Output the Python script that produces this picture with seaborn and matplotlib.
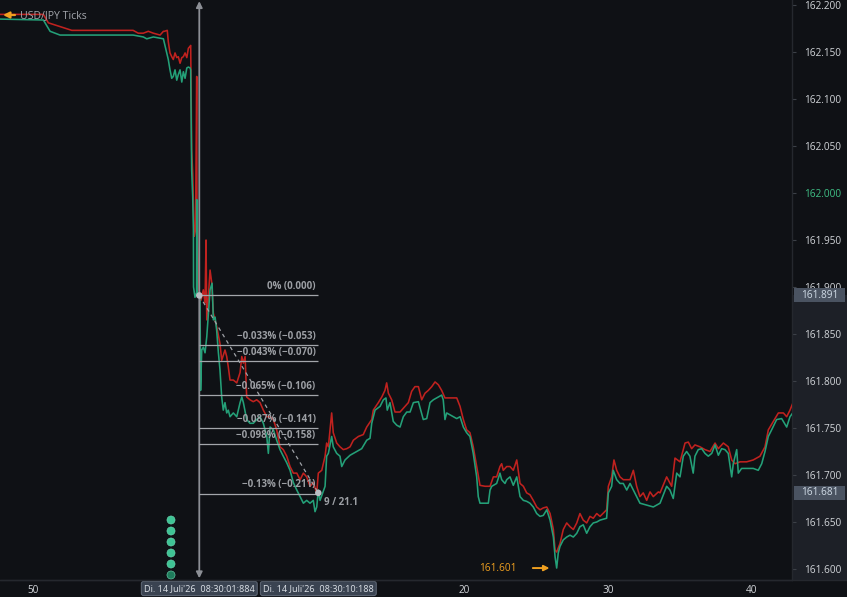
import matplotlib
matplotlib.use("Agg")
import matplotlib.pyplot as plt
import seaborn as sns
import pandas as pd
from matplotlib import transforms
from matplotlib.patches import Rectangle
from matplotlib.lines import Line2D

# ---------------- data (seconds relative to 08:30:00, price) ----------------
bid_t = [-12.33, -9.31, -8.84, -8.15, -6.98, -3.06, -2.35, -2.11, -1.65, -0.95,
         -0.72, -0.61, -0.49, -0.37, -0.26, -0.14, -0.02, 0.09, 0.21, 0.33,
         0.44, 0.56, 0.68, 0.79, 0.91, 0.95, 1.02, 1.09, 1.14, 1.15,
         1.25, 1.36, 1.37, 1.39, 1.55, 1.60, 1.64, 1.72, 1.83, 1.95,
         2.07, 2.30, 2.44, 2.53, 2.65, 2.76, 2.88, 2.99, 3.11, 3.22,
         3.34, 3.46, 3.57, 3.69, 3.92, 4.16, 4.39, 4.51, 4.62, 4.85,
         5.08, 5.31, 5.55, 5.78, 6.01, 6.25, 6.36, 6.48, 6.71, 6.94,
         7.17, 7.40, 7.64, 7.87, 8.10, 8.34, 8.57, 8.80, 9.03, 9.26,
         9.49, 9.61, 9.73, 9.84, 9.96, 10.31, 10.42, 10.54, 10.77, 10.88,
         11.12, 11.35, 11.47, 11.70, 12.05, 12.51, 12.86, 13.21, 13.44, 13.56,
         13.79, 14.14, 14.37, 14.55, 14.64, 14.83, 15.06, 15.30, 15.53, 15.76,
         16.00, 16.23, 16.46, 16.81, 17.15, 17.39, 17.62, 17.85, 18.08, 18.43,
         18.54, 18.66, 18.78, 19.01, 19.48, 19.71, 19.94, 20.17, 20.40, 20.63,
         20.87, 20.98, 21.10, 21.68, 21.80, 21.92, 22.26, 22.49, 22.61, 22.84,
         22.96, 23.19, 23.42, 23.66, 23.89, 24.12, 24.35, 24.58, 24.81, 25.05,
         25.28, 25.51, 25.75, 25.98, 26.21, 26.33, 26.44, 26.55, 26.67, 26.90,
         27.14, 27.37, 27.60, 27.84, 28.06, 28.29, 28.53, 28.76, 28.99, 29.23,
         29.46, 29.92, 30.04, 30.27, 30.38, 30.62, 30.85, 31.08, 31.32, 31.55,
         31.78, 32.01, 32.24, 32.71, 33.17, 33.64, 34.10, 34.33, 34.56, 34.80,
         35.03, 35.26, 35.49, 35.72, 35.95, 36.07, 36.30, 36.54, 36.77, 37.00,
         37.24, 37.47, 37.70, 37.93, 38.16, 38.39, 38.63, 38.74, 38.98, 39.09,
         39.32, 39.67, 40.13, 40.48, 40.72, 40.95, 41.18, 41.41, 41.76, 42.11,
         42.46, 42.69, 42.93]
bid_p = [162.185, 162.184, 162.172, 162.168, 162.168, 162.168, 162.166, 162.164, 162.166, 162.164,
         162.149, 162.142, 162.131, 162.122, 162.124, 162.131, 162.120, 162.126, 162.131, 162.118,
         162.129, 162.122, 162.133, 162.134, 162.133, 162.131, 162.024, 161.996, 161.961, 161.900,
         161.889, 161.894, 161.993, 161.894, 161.892, 161.889, 161.790, 161.833, 161.836, 161.830,
         161.847, 161.897, 161.904, 161.865, 161.868, 161.854, 161.830, 161.812, 161.783, 161.769,
         161.777, 161.766, 161.769, 161.762, 161.766, 161.762, 161.777, 161.783, 161.777, 161.759,
         161.755, 161.755, 161.759, 161.762, 161.755, 161.741, 161.723, 161.751, 161.748, 161.737,
         161.727, 161.720, 161.713, 161.705, 161.692, 161.684, 161.677, 161.670, 161.673, 161.670,
         161.673, 161.661, 161.666, 161.684, 161.673, 161.688, 161.720, 161.723, 161.741, 161.730,
         161.723, 161.720, 161.709, 161.716, 161.721, 161.725, 161.728, 161.737, 161.739, 161.755,
         161.769, 161.773, 161.780, 161.782, 161.769, 161.777, 161.757, 161.753, 161.751, 161.762,
         161.767, 161.767, 161.777, 161.778, 161.759, 161.760, 161.777, 161.780, 161.782, 161.785,
         161.780, 161.759, 161.766, 161.764, 161.760, 161.762, 161.751, 161.745, 161.741, 161.723,
         161.698, 161.677, 161.670, 161.670, 161.684, 161.688, 161.691, 161.702, 161.695, 161.691,
         161.695, 161.698, 161.689, 161.698, 161.677, 161.673, 161.672, 161.670, 161.666, 161.659,
         161.656, 161.657, 161.663, 161.652, 161.634, 161.613, 161.601, 161.617, 161.624, 161.631,
         161.634, 161.636, 161.634, 161.638, 161.645, 161.647, 161.638, 161.645, 161.649, 161.650,
         161.652, 161.654, 161.681, 161.688, 161.705, 161.695, 161.691, 161.691, 161.684, 161.691,
         161.684, 161.677, 161.670, 161.668, 161.666, 161.670, 161.688, 161.684, 161.675, 161.702,
         161.698, 161.720, 161.725, 161.720, 161.702, 161.720, 161.727, 161.728, 161.723, 161.720,
         161.723, 161.732, 161.721, 161.728, 161.727, 161.723, 161.698, 161.712, 161.727, 161.702,
         161.707, 161.707, 161.707, 161.705, 161.712, 161.725, 161.741, 161.748, 161.759, 161.760,
         161.751, 161.762, 161.767]

ask_t = [-12.33, -9.31, -8.96, -7.33, -3.06, -2.70, -2.35, -2.00, -1.65, -1.18,
         -0.95, -0.88, -0.68, -0.61, -0.49, -0.37, -0.26, -0.14, -0.02, 0.09,
         0.21, 0.33, 0.44, 0.56, 0.68, 0.79, 0.91, 0.95, 1.02, 1.09,
         1.20, 1.29, 1.37, 1.39, 1.53, 1.67, 1.83, 1.95, 2.02, 2.07,
         2.18, 2.30, 2.42, 2.53, 2.76, 2.99, 3.11, 3.34, 3.46, 3.57,
         3.69, 3.92, 4.16, 4.39, 4.51, 4.62, 4.74, 4.85, 5.08, 5.31,
         5.55, 5.78, 6.01, 6.25, 6.48, 6.71, 6.94, 7.17, 7.40, 7.64,
         7.87, 8.10, 8.34, 8.57, 8.80, 9.03, 9.26, 9.49, 9.73, 9.84,
         10.08, 10.31, 10.42, 10.54, 10.77, 10.88, 11.12, 11.35, 11.58, 11.82,
         12.05, 12.28, 12.63, 12.97, 13.21, 13.56, 13.67, 14.02, 14.26, 14.48,
         14.60, 14.72, 14.95, 15.18, 15.53, 15.88, 16.11, 16.34, 16.57, 16.81,
         17.04, 17.27, 17.50, 17.74, 17.97, 18.20, 18.43, 18.66, 19.01, 19.48,
         19.71, 19.94, 20.17, 20.40, 20.63, 20.87, 21.10, 21.45, 21.80, 22.03,
         22.26, 22.49, 22.61, 22.72, 22.96, 23.19, 23.42, 23.66, 23.89, 24.12,
         24.35, 24.58, 24.81, 25.05, 25.28, 25.51, 25.75, 25.98, 26.21, 26.33,
         26.44, 26.67, 26.90, 27.14, 27.37, 27.60, 27.84, 28.06, 28.29, 28.53,
         28.76, 28.99, 29.23, 29.46, 29.92, 30.04, 30.27, 30.43, 30.62, 30.85,
         31.08, 31.32, 31.55, 31.78, 32.01, 32.24, 32.47, 32.71, 32.94, 33.17,
         33.52, 33.64, 34.10, 34.45, 34.68, 35.03, 35.38, 35.61, 35.84, 36.07,
         36.42, 36.77, 37.12, 37.47, 37.70, 38.05, 38.39, 38.63, 38.86, 39.21,
         39.67, 40.13, 40.60, 40.95, 41.18, 41.53, 41.88, 42.23, 42.46, 42.69,
         42.93]
ask_p = [162.190, 162.190, 162.181, 162.173, 162.173, 162.170, 162.170, 162.172, 162.170, 162.168,
         162.172, 162.172, 162.173, 162.161, 162.149, 162.145, 162.142, 162.149, 162.144, 162.145,
         162.138, 162.144, 162.145, 162.149, 162.144, 162.154, 162.156, 162.157, 162.046, 162.021,
         161.954, 161.961, 162.124, 161.975, 161.897, 161.886, 161.897, 161.883, 161.950, 161.865,
         161.889, 161.918, 161.904, 161.872, 161.858, 161.840, 161.822, 161.833, 161.826, 161.815,
         161.801, 161.801, 161.798, 161.809, 161.826, 161.819, 161.826, 161.783, 161.780, 161.778,
         161.780, 161.777, 161.769, 161.762, 161.762, 161.759, 161.748, 161.730, 161.727, 161.720,
         161.709, 161.702, 161.702, 161.695, 161.702, 161.698, 161.688, 161.692, 161.681, 161.702,
         161.705, 161.720, 161.734, 161.730, 161.766, 161.745, 161.734, 161.730, 161.727, 161.728,
         161.730, 161.737, 161.741, 161.743, 161.751, 161.759, 161.769, 161.777, 161.783, 161.790,
         161.798, 161.787, 161.780, 161.767, 161.767, 161.773, 161.777, 161.789, 161.794, 161.794,
         161.780, 161.787, 161.790, 161.794, 161.799, 161.796, 161.790, 161.782, 161.782, 161.782,
         161.773, 161.759, 161.748, 161.745, 161.730, 161.709, 161.689, 161.688, 161.688, 161.698,
         161.698, 161.709, 161.712, 161.705, 161.709, 161.709, 161.705, 161.716, 161.691, 161.688,
         161.681, 161.679, 161.673, 161.666, 161.663, 161.665, 161.666, 161.659, 161.642, 161.620,
         161.618, 161.627, 161.642, 161.649, 161.645, 161.642, 161.649, 161.659, 161.652, 161.649,
         161.656, 161.654, 161.659, 161.656, 161.663, 161.688, 161.698, 161.716, 161.705, 161.698,
         161.695, 161.695, 161.695, 161.705, 161.688, 161.677, 161.681, 161.673, 161.682, 161.677,
         161.682, 161.681, 161.698, 161.688, 161.718, 161.714, 161.734, 161.735, 161.728, 161.732,
         161.730, 161.727, 161.725, 161.734, 161.728, 161.734, 161.730, 161.716, 161.712, 161.714,
         161.714, 161.716, 161.720, 161.730, 161.748, 161.757, 161.766, 161.766, 161.762, 161.769,
         161.778]

# measurement tool
meas_t = [1.55, 9.84]
meas_p = [161.891, 161.681]
fib_pct = ["0%", "\u22120.033%", "\u22120.043%", "\u22120.065%", "\u22120.087%", "\u22120.098%", "\u22120.13%"]
fib_delta = [0.000, -0.053, -0.070, -0.106, -0.141, -0.158, -0.211]
meas_text = "9 / 21.1"
date_labels = ["Di. 14 Juli'26  08:30:01:884", "Di. 14 Juli'26  08:30:10:188"]

low_price = 161.601
low_t = 26.44
last_labels = [161.891, 161.681]

y_ticks = [161.600, 161.650, 161.700, 161.750, 161.800, 161.850, 161.900,
           161.950, 162.000, 162.050, 162.100, 162.150, 162.200]
x_tick_pos = [-10, 20, 30, 40]
x_tick_lbl = ["50", "20", "30", "40"]
title = "USD/JPY Ticks"

# ---------------- style ----------------
BG = "#0f1115"
PANEL = "#1d2027"
GRID = "#25282e"
TXT = "#d2d5d9"
RED = "#c0221f"
GREEN = "#24a078"
ORANGE = "#f0a020"
FIBTXT = "#9c9fa4"

sns.set_theme(style="dark")
plt.rcParams['font.family'] = ['Open Sans', 'DejaVu Sans']

fig = plt.figure(figsize=(8.47, 5.97), dpi=100, facecolor=BG)
ax = fig.add_axes([0, 17 / 597, 792 / 847, 580 / 597])
ax.set_facecolor(BG)
ax.grid(False)

ask_df = pd.DataFrame({"t": ask_t, "price": ask_p})
bid_df = pd.DataFrame({"t": bid_t, "price": bid_p})
sns.lineplot(data=ask_df, x="t", y="price", estimator=None, sort=False,
             color=RED, lw=1.15, ax=ax, zorder=3)
sns.lineplot(data=bid_df, x="t", y="price", estimator=None, sort=False,
             color=GREEN, lw=1.15, ax=ax, zorder=3)

ax.set_xlim(-12.33, 42.83)
ax.set_ylim(161.5883, 162.2053)
ax.set_xlabel("")
ax.set_ylabel("")

for s in ["top", "left"]:
    ax.spines[s].set_visible(False)
ax.spines["right"].set_color(GRID)
ax.spines["bottom"].set_color(GRID)
ax.spines["right"].set_linewidth(1)
ax.spines["bottom"].set_linewidth(1)

# y axis on the right
ax.yaxis.tick_right()
ax.set_yticks(y_ticks)
ax.set_yticklabels([f"{v:.3f}" for v in y_ticks])
ax.tick_params(axis="y", right=True, left=False, direction="out", length=3,
               width=0.8, color="#3c4047", pad=5.5, labelsize=7.2, labelcolor=TXT)
for lbl, v in zip(ax.get_yticklabels(), y_ticks):
    if abs(v - 162.0) < 1e-6:
        lbl.set_color("#3fbf85")

ax.set_xticks(x_tick_pos)
ax.set_xticklabels(x_tick_lbl)
ax.tick_params(axis="x", bottom=True, length=0, pad=3.5, labelsize=7.2, labelcolor=TXT)

# right panel highlight (below measurement start)
bx = transforms.blended_transform_factory(fig.transFigure, ax.transData)
fig.add_artist(Rectangle((793 / 847, 161.5883), 54 / 847, meas_p[0] - 161.5883,
                         transform=bx, facecolor=PANEL, edgecolor="none", zorder=-1))
fig.add_artist(Line2D([0, 1], [17 / 597, 17 / 597], transform=fig.transFigure,
                      color=GRID, lw=1, zorder=1))

# price boxes on the axis
for v in last_labels:
    fig.add_artist(Rectangle((794 / 847, v - 0.0074), 51 / 847, 0.0148, transform=bx,
                             facecolor="#4a5361", edgecolor="none", zorder=5))
    fig.text(819.5 / 847, v, f"{v:.3f}", transform=bx, ha="center", va="center",
             fontsize=7.2, color="#d0dbe6", zorder=6)

# measurement: vertical arrowed line
ax.annotate("", xy=(meas_t[0], 0.998), xytext=(meas_t[0], 0.003),
            xycoords=("data", "axes fraction"), textcoords=("data", "axes fraction"),
            arrowprops=dict(arrowstyle="<|-|>", color="#8c8f95", lw=1.3,
                            mutation_scale=9, shrinkA=0, shrinkB=0), zorder=4)

# fib levels
for pct, d in zip(fib_pct, fib_delta):
    lvl = meas_p[0] + d
    ax.hlines(lvl, meas_t[0], meas_t[1], color="#a3a6ab", lw=0.9, zorder=4)
    ax.annotate(f"{pct} ({d:.3f})".replace("-", "\u2212"),
                xy=(meas_t[1], lvl), xytext=(-2, 2.5), textcoords="offset points",
                ha="right", va="bottom", fontsize=7, fontweight="bold",
                color=FIBTXT, zorder=5)

ax.plot(meas_t, meas_p, color="#9ea1a6", lw=0.9, ls=(0, (3, 3)), zorder=4)
ax.scatter(meas_t, meas_p, s=22, color="#b9bdc3", zorder=6, edgecolor="none")
ax.annotate(meas_text, xy=(meas_t[1], meas_p[1]), xytext=(4, -3),
            textcoords="offset points", ha="left", va="top", fontsize=7,
            fontweight="bold", color=FIBTXT, zorder=6)

# date boxes on the time axis
bxd = transforms.blended_transform_factory(ax.transData, fig.transFigure)
for t, s in zip(meas_t, date_labels):
    ax.text(t, 8.5 / 597, s, transform=bxd, ha="center", va="center", fontsize=6.6,
            color="#dde2e8", clip_on=False, zorder=10,
            bbox=dict(boxstyle="round,pad=0.28,rounding_size=0.25", fc="#3a4351",
                      ec="#5b6472", lw=0.8))

# low marker
ax.annotate(f"{low_price:.3f}", xy=(low_t - 0.5, low_price), xytext=(-24, 0),
            textcoords="offset points", ha="right", va="center", fontsize=7.2,
            color=ORANGE, zorder=6)
ax.annotate("", xy=(low_t - 0.5, low_price), xytext=(-12, 0), textcoords="offset points",
            arrowprops=dict(arrowstyle="-|>", color=ORANGE, lw=1.4, mutation_scale=8,
                            shrinkA=0, shrinkB=0), zorder=6)

# title with arrow
ax.annotate("", xy=(3 / 792, 1 - 15 / 580), xytext=(15 / 792, 1 - 15 / 580),
            xycoords="axes fraction", textcoords="axes fraction",
            arrowprops=dict(arrowstyle="-|>", color=ORANGE, lw=1.6, mutation_scale=9,
                            shrinkA=0, shrinkB=0), zorder=6)
ax.text(20 / 792, 1 - 16 / 580, title, transform=ax.transAxes, ha="left", va="center",
        fontsize=7.6, color="#a3a6ac", zorder=6)

# alert dots bottom left
dot_y = [1 - 520 / 580, 1 - 531 / 580, 1 - 542 / 580, 1 - 553 / 580, 1 - 564 / 580, 1 - 575 / 580]
dot_c = ["#3fc495"] * 5 + ["#1f7c5c"]
ax.scatter([171 / 792] * 6, dot_y, s=34, c=dot_c, transform=ax.transAxes,
           zorder=6, edgecolor="#6fd8b2", linewidths=0.4, clip_on=False)

fig.savefig("out.png", dpi=100, facecolor=BG)
